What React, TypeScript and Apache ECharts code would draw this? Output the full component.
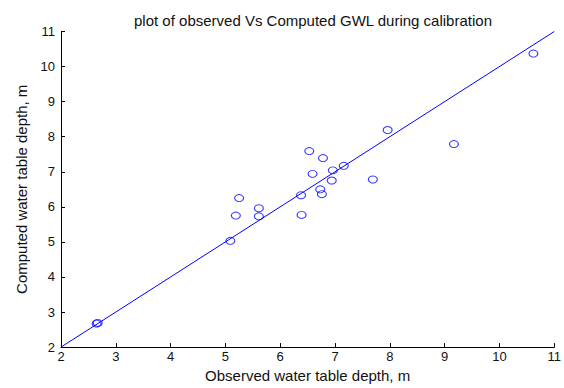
import React, { useEffect, useRef } from "react";
import * as echarts from "echarts";

const observed = [2.65, 2.67, 5.09, 5.19, 5.25, 5.61, 5.61, 6.38, 6.39, 6.53, 6.59, 6.73, 6.76, 6.78, 6.94, 6.96, 7.16, 7.69, 7.96, 9.17, 10.62];
const computed = [2.67, 2.69, 5.03, 5.75, 6.25, 5.96, 5.73, 6.33, 5.77, 7.59, 6.94, 6.50, 6.36, 7.39, 6.75, 7.04, 7.17, 6.78, 8.19, 7.79, 10.37];
const lineX = [2, 11];
const lineY = [2, 11];
const titleText = "plot of observed Vs Computed GWL during calibration";
const xName = "Observed water table depth, m";
const yName = "Computed water table depth, m";

export default function App() {
  const ref = useRef<HTMLDivElement>(null);
  useEffect(() => {
    if (!ref.current) return;
    const chart = echarts.init(ref.current, null, { renderer: "svg" });
    const font = "'Liberation Sans', Arial, sans-serif";
    const axisCommon = {
      min: 2,
      max: 11,
      interval: 1,
      axisLine: { show: true, lineStyle: { color: "#000", width: 1 } },
      axisTick: { show: true, inside: true, length: 4, lineStyle: { color: "#000" } },
      splitLine: { show: false },
      axisLabel: { color: "#111", fontSize: 13, fontFamily: font },
      nameLocation: "middle" as const,
      nameTextStyle: { color: "#111", fontSize: 15, fontFamily: font },
    };
    chart.setOption({
      animation: false,
      backgroundColor: "#fff",
      title: {
        text: titleText,
        left: 308,
        top: 8,
        textAlign: "center",
        textStyle: { color: "#111", fontSize: 15, fontWeight: "normal", fontFamily: font },
      },
      grid: { left: 61, right: 8, top: 31.5, bottom: 35, containLabel: false },
      xAxis: {
        type: "value",
        ...axisCommon,
        name: xName,
        nameGap: 18,
        axisLabel: { ...axisCommon.axisLabel, margin: 3 },
      },
      yAxis: {
        type: "value",
        ...axisCommon,
        name: yName,
        nameGap: 32,
        axisLabel: { ...axisCommon.axisLabel, margin: 6 },
      },
      series: [
        {
          type: "line",
          data: lineX.map((x, i) => [x, lineY[i]]),
          showSymbol: false,
          lineStyle: { color: "#0000ff", width: 1 },
          silent: true,
        },
        {
          type: "scatter",
          data: observed.map((x, i) => [x, computed[i]]),
          symbol: "circle",
          symbolSize: [9, 7],
          itemStyle: { color: "rgba(0,0,0,0)", borderColor: "#0000ff", borderWidth: 1 },
        },
      ],
    });
    return () => chart.dispose();
  }, []);
  return <div ref={ref} style={{ width: 564, height: 388, position: "absolute", left: 0, top: 0 }} />;
}
